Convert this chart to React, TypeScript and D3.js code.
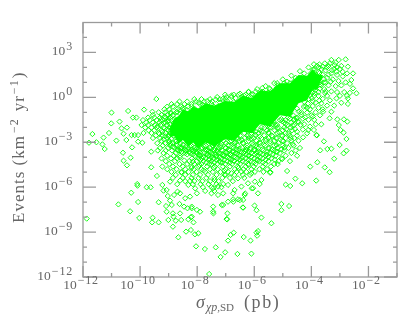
import React, { useRef, useEffect } from "react";
import * as d3 from "d3";

// all values are log10
const xMajorExp = [-12, -10, -8, -6, -4, -2];
const xMinorExp = [-11, -9, -7, -5, -3, -1];
const yMajorExp = [-12, -9, -6, -3, 0, 3];
const yMinorExp = [-11, -10, -8, -7, -5, -4, -2, -1, 1, 2, 4];

// the part of the cloud where the diamonds merge into solid green
const coreSigma = [-8.95, -8.8, -8.65, -8.5, -8.3, -8.15, -7.97, -7.7, -7.4, -7.03, -6.7, -6.4, -6.08, -5.8, -5.45, -5.1, -4.75, -4.45, -4.15, -3.95, -3.8, -3.6];
const coreTop = [-2.0, -1.4, -1.25, -0.8, -0.95, -0.6, -0.75, -0.4, -0.55, -0.25, -0.3, 0.1, -0.05, 0.45, 0.4, 0.95, 0.95, 1.5, 1.45, 1.9, 1.55, 1.5];
const coreBottom = [-2.6, -2.6, -3.1, -2.85, -3.3, -3.0, -3.4, -3.0, -3.3, -2.8, -2.9, -2.3, -2.4, -1.8, -1.95, -1.2, -1.3, -0.4, -0.2, 0.5, 0.5, 1.4];

// isolated points: [log sigma, log events]
const leftPoints = [
  [-9.43, -0.11], [-11.0, -1.02], [-10.42, -0.91], [-9.86, -0.82], [-9.57, -0.96], [-11.01, -1.74],
  [-10.72, -1.62], [-11.67, -2.45], [-11.09, -2.38], [-11.28, -2.69], [-11.79, -3.03], [-11.53, -3.0],
  [-11.32, -3.14], [-11.24, -3.45], [-10.83, -2.89], [-10.65, -2.07], [-10.46, -2.02], [-10.58, -2.43],
  [-10.48, -2.85], [-10.28, -3.34], [-10.6, -3.7], [-10.33, -4.03], [-10.58, -4.23], [-10.46, -4.54],
  [-9.61, -3.63], [-9.61, -4.67], [-10.1, -5.79], [-9.41, -5.25], [-10.07, -2.96], [-9.92, -3.03],
  [-10.19, -2.52], [-10.07, -2.52], [-10.3, -2.52], [-11.87, -8.1],
];
const rightPoints = [
  [-3.3, 2.5], [-2.8, 2.54], [-3.04, 2.5], [-2.72, 2.05], [-3.91, 2.21], [-3.53, 2.27], [-3.18, 2.16],
  [-2.54, 1.6], [-2.6, 1.16], [-2.42, 0.27], [-2.54, 0.6], [-2.72, -0.44], [-2.95, -0.36], [-2.72, -0.07],
  [-3.12, -0.07], [-3.3, -0.96], [-3.09, -1.47], [-2.86, -1.47], [-2.74, -1.62], [-3.04, -1.85],
  [-2.98, -2.18], [-2.87, -2.36], [-2.77, -2.78], [-3.56, -2.94], [-3.01, -3.18], [-3.44, -3.45],
  [-3.3, -3.43], [-3.69, -3.54], [-2.77, -3.56], [-2.87, -3.74], [-3.2, -4.1], [-3.79, -4.34],
  [-4.04, -4.63], [-3.53, -4.68], [-3.65, -1.8], [-3.91, -2.18], [-3.81, -2.54], [-4.15, -2.4],
  [-4.29, -2.67], [-3.36, -1.4], [-3.59, -0.96], [-3.4, 2.1], [-3.2, 1.9], [-3.0, 1.9], [-2.9, 1.7],
  [-2.75, 1.6], [-2.9, 1.4], [-3.1, 1.5], [-3.3, 1.6], [-3.5, 1.8], [-3.6, 1.5], [-3.45, 1.3],
  [-3.25, 1.2], [-3.05, 1.1], [-2.8, 1.0], [-2.65, 0.9], [-2.95, 0.8], [-3.15, 0.75], [-3.4, 0.8],
  [-3.55, 0.55], [-3.3, 0.4], [-3.1, 0.35], [-2.85, 0.35], [-2.65, 0.3], [-2.75, 0.1], [-3.0, 0.1],
  [-3.45, 0.1], [-3.6, -0.1], [-3.35, -0.2], [-3.65, -0.4], [-3.45, -0.55], [-3.2, -0.55], [-3.75, -0.7],
  [-3.6, -0.8], [-3.85, -1.0], [-4.0, -1.2], [-3.7, -1.2], [-3.9, -1.5], [-4.1, -1.5], [-4.25, -1.8],
  [-3.85, -1.8], [-4.05, -1.95], [-4.3, -2.15], [-4.5, -2.3], [-3.75, 2.0], [-3.6, 2.05], [-3.75, 1.7],
  [-3.9, 1.85], [-3.8, 1.35], [-3.95, 1.1], [-3.7, 1.0], [-3.85, 0.7], [-4.05, 0.5], [-3.75, 0.35],
  [-3.9, 0.1], [-4.1, -0.1], [-3.85, -0.35], [-4.2, -0.6], [-4.05, -0.8], [-4.35, -1.0], [-4.5, -1.35],
];
const lowerPoints = [
  [-4.85, -4.92], [-3.36, -5.0], [-4.56, -5.43], [-3.83, -5.56], [-4.32, -5.74], [-4.9, -5.83],
  [-4.74, -5.92], [-5.87, -6.41], [-5.05, -7.12], [-4.78, -7.26], [-5.99, -7.23], [-6.39, -7.37],
  [-5.92, -7.54], [-5.05, -7.54], [-6.94, -7.75], [-5.75, -8.03], [-6.95, -8.15], [-5.4, -8.41],
  [-5.87, -8.93], [-5.92, -9.04], [-5.9, -9.24], [-6.72, -9.04], [-6.83, -9.19], [-6.37, -9.33],
  [-6.13, -9.57], [-6.92, -9.57], [-7.35, -10.02], [-7.02, -10.35], [-7.18, -10.66], [-6.59, -10.46],
  [-6.1, -10.44], [-7.58, -11.8], [-5.43, -5.0], [-5.75, -5.52], [-5.81, -5.79], [-6.04, -6.07],
  [-6.22, -5.74], [-6.45, -5.96], [-6.69, -6.19], [-6.34, -6.52], [-6.39, -6.85], [-6.57, -6.81],
  [-6.92, -6.97], [-7.09, -7.19], [-6.74, -6.81], [-7.27, -6.52], [-7.44, -7.3], [-7.44, -7.63],
  [-7.5, -6.41], [-7.09, -6.41], [-7.27, -5.96], [-6.92, -5.85], [-6.57, -5.41], [-6.1, -5.07],
  [-7.04, -5.18], [-7.39, -5.52], [-6.45, -4.96], [-6.8, -5.07], [-5.98, -5.63], [-6.74, -6.41],
  [-7.09, -5.79], [-7.44, -6.07], [-10.09, -5.9], [-10.31, -6.37], [-9.77, -6.01], [-9.63, -6.01],
  [-10.76, -7.15], [-10.07, -6.99], [-10.35, -7.61], [-10.03, -8.06], [-9.56, -8.04], [-9.58, -8.35],
  [-9.35, -8.35], [-9.35, -7.01], [-9.22, -5.85], [-9.18, -6.23], [-9.07, -6.19], [-9.03, -6.59],
  [-8.95, -6.9], [-9.09, -7.26], [-9.07, -7.64], [-8.89, -7.19], [-8.85, -7.75], [-8.83, -7.97],
  [-9.01, -8.19], [-8.75, -8.24], [-8.56, -8.19], [-8.6, -7.75], [-8.85, -8.64], [-8.62, -7.12],
  [-8.46, -7.3], [-8.34, -7.41], [-8.19, -7.41], [-8.01, -7.52], [-8.31, -8.15], [-8.22, -8.01],
  [-8.13, -8.35], [-8.39, -8.97], [-8.22, -8.86], [-8.08, -9.15], [-7.96, -9.08], [-8.66, -9.35],
  [-8.04, -9.95], [-8.81, -6.52], [-8.69, -6.3], [-8.6, -6.41], [-8.42, -6.74], [-8.25, -6.63],
  [-8.01, -6.41], [-8.95, -5.63], [-8.6, -5.56], [-8.31, -5.85], [-8.25, -5.59], [-8.07, -6.08],
  [-7.73, -10.13], [-6.4, -7.35], [-6.97, -8.13], [-5.18, -4.46], [-5.45, -5.03], [-6.09, -6.08],
  [-6.32, -6.42], [-6.5, -6.86], [-6.73, -6.97], [-7.14, -7.19], [-7.43, -7.75], [-7.9, -7.64],
  [-8.19, -7.3], [-8.19, -7.97], [-5.02, -4.12], [-3.82, -2.51], [-4.11, -2.18],
];

// points along the rim of the solid part
const topRim = [
  [-8.85, -1.2], [-8.7, -0.95], [-8.6, -1.1], [-8.5, -0.7], [-8.35, -0.85], [-8.2, -0.6], [-8.1, -0.75],
  [-7.95, -0.35], [-7.8, -0.5], [-7.65, -0.25], [-7.5, -0.45], [-7.35, -0.15], [-7.2, -0.35], [-7.1, -0.1],
  [-6.95, -0.25], [-6.8, 0.12], [-6.65, -0.05], [-6.5, 0.25], [-6.35, 0.1], [-6.2, 0.35], [-6.05, 0.2],
  [-5.9, 0.55], [-5.75, 0.35], [-5.6, 0.75], [-5.45, 0.55], [-5.3, 0.95], [-5.15, 0.8], [-5.0, 1.2],
  [-4.85, 1.05], [-4.7, 1.45], [-4.55, 1.3], [-4.4, 1.75], [-4.25, 1.6], [-4.1, 2.0], [-3.95, 1.85], [-3.8, 2.1],
  [-8.78, -1.45], [-8.55, -1.3], [-8.28, -1.05], [-8.02, -0.9], [-7.72, -0.72], [-7.42, -0.62], [-7.05, -0.5],
  [-6.72, -0.32], [-6.42, -0.12], [-6.12, 0.02], [-5.82, 0.15], [-5.52, 0.32], [-5.22, 0.55], [-4.92, 0.82],
  [-4.62, 1.05], [-4.32, 1.35], [-4.02, 1.6],
];
const bottomRim = [
  [-9.0, -2.6], [-8.95, -3.1], [-8.85, -3.3], [-8.75, -2.95], [-8.6, -3.4], [-8.5, -3.15], [-8.4, -3.55],
  [-8.25, -3.3], [-8.15, -3.6], [-8.0, -3.4], [-7.9, -3.7], [-7.75, -3.3], [-7.6, -3.6], [-7.45, -3.25],
  [-7.3, -3.55], [-7.15, -3.1], [-7.0, -3.4], [-6.85, -2.95], [-6.7, -3.2], [-6.55, -2.75], [-6.4, -3.05],
  [-6.25, -2.55], [-6.1, -2.8], [-5.95, -2.3], [-5.8, -2.6], [-5.65, -2.05], [-5.5, -2.35], [-5.35, -1.8],
  [-5.2, -2.05], [-5.05, -1.45], [-4.9, -1.75], [-4.75, -1.1], [-4.6, -1.45], [-4.5, -0.75], [-4.35, -1.15],
  [-4.25, -0.3], [-4.15, -0.7], [-4.05, 0.15], [-3.95, -0.25], [-3.85, 0.5], [-3.75, 0.1], [-3.7, 0.85],
  [-3.55, 1.0], [-3.5, 0.4], [-9.0, -1.4], [-8.95, -1.8], [-9.05, -2.15], [-8.95, -2.4], [-9.12, -2.6],
  [-8.92, -1.1], [-8.98, -2.0], [-8.9, -2.75], [-9.18, -1.7], [-9.22, -2.3],
];

// clumps inside the busy parts, not on any row
const clumpPoints = [
  [-9.02, -1.62], [-8.83, -1.72], [-8.72, -1.95], [-8.9, -2.12], [-8.78, -2.33], [-8.66, -2.62], [-8.83, -2.58],
  [-9.14, -1.28], [-9.28, -1.53], [-9.38, -1.92], [-9.14, -2.07], [-9.32, -2.44], [-9.16, -2.82], [-8.98, -3.0],
  [-8.72, -3.12], [-8.52, -3.35], [-8.3, -3.48], [-8.07, -3.52], [-7.85, -3.42], [-7.62, -3.47], [-7.38, -3.4],
  [-7.17, -3.33], [-6.93, -3.2], [-6.67, -3.03], [-6.43, -2.85], [-6.2, -2.72], [-5.97, -2.5], [-5.73, -2.25],
  [-5.48, -2.02], [-5.27, -1.83], [-5.02, -1.6], [-4.82, -1.35], [-4.64, -1.2], [-4.44, -0.95], [-4.27, -0.62],
  [-4.12, -0.42], [-3.98, -0.05], [-3.88, 0.28], [-8.68, -3.55], [-8.42, -3.72], [-8.18, -3.78], [-7.92, -3.87],
  [-7.67, -3.76], [-7.47, -3.84], [-7.24, -3.72], [-6.98, -3.67], [-6.74, -3.58], [-6.52, -3.42], [-6.26, -3.36],
  [-6.04, -3.18], [-5.83, -3.02], [-5.59, -2.78], [-5.36, -2.62], [-5.12, -2.35], [-4.88, -2.12], [-4.66, -1.88],
  [-4.47, -1.6], [-4.22, -1.34], [-7.84, -4.06], [-7.56, -4.13], [-7.33, -3.97], [-7.07, -3.92], [-6.83, -3.83],
  [-6.6, -3.77], [-6.33, -3.62], [-6.14, -3.48], [-5.92, -3.34], [-5.67, -3.14], [-5.44, -2.93], [-5.24, -2.72],
  [-5.01, -2.57], [-4.8, -2.42], [-4.57, -2.12], [-4.38, -1.83], [-3.72, 1.62], [-3.56, 1.22], [-3.4, 1.52],
  [-3.66, 0.82], [-3.5, 0.98], [-3.32, 1.05], [-3.78, 1.12], [-3.94, 0.86], [-3.64, 1.88], [-3.46, 2.0],
  [-3.28, 1.82], [-3.12, 1.72], [-3.35, 2.28], [-3.15, 2.32], [-3.72, 2.2], [-2.95, 2.1], [-3.1, 2.0],
  [-3.98, 0.32], [-3.7, 0.58], [-3.52, 0.28], [-3.95, -0.58], [-3.72, -0.22], [-4.15, -1.02], [-3.95, -1.28],
  [-8.6, -4.02], [-8.45, -4.22], [-8.15, -4.28], [-7.92, -4.52], [-7.5, -4.47], [-7.18, -4.33], [-6.72, -4.22],
  [-6.45, -4.08], [-6.18, -3.88], [-5.92, -3.72], [-5.5, -3.42], [-5.22, -3.18], [-4.98, -2.92], [-4.72, -2.72],
  [-4.5, -2.55], [-8.55, -5.02], [-8.2, -4.72], [-7.78, -4.88], [-7.42, -4.72], [-7.05, -4.9], [-6.55, -4.72],
  [-6.2, -4.52], [-5.88, -4.2], [-5.55, -3.82], [-5.22, -3.62], [-4.95, -3.35], [-4.65, -3.12],
];

// the thick of the cloud, read row by row: [log events, log sigma values]
const cloudRows: [number, number[]][] = [
  [0.95, [-5.2, -4.95, -4.75]],
  [0.62, [-5.72, -5.48, -5.22]],
  [0.38, [-6.2, -5.95, -5.7]],
  [0.18, [-7.02, -6.72, -6.55, -6.3, -6.1]],
  [0.02, [-7.3, -6.98, -6.8, -6.42]],
  [-0.12, [-8.1, -7.85, -7.55, -7.2, -7.0]],
  [-0.28, [-8.62, -8.35, -8.05, -7.75, -7.48]],
  [-0.45, [-8.9, -8.7, -8.45, -8.2, -7.9]],
  [-0.62, [-9.05, -8.85, -8.55, -8.32]],
  [-0.8, [-9.15, -8.98, -8.7, -8.5]],
  [-1.0, [-9.35, -9.12, -8.92, -8.72]],
  [-1.18, [-9.55, -9.25, -9.05, -8.85]],
  [-1.35, [-10.25, -10.13, -9.72, -9.5, -9.3, -9.1, -8.95]],
  [-1.42, [-4.75, -4.52, -4.3]],
  [-1.52, [-9.9, -9.66, -9.42, -9.2, -9.0, -5.1, -4.9, -4.62]],
  [-1.68, [-9.78, -9.55, -9.32, -9.12, -5.3, -4.95, -4.7, -4.45]],
  [-1.85, [-9.95, -9.72, -9.48, -9.28, -9.05, -5.5, -5.2, -4.85, -4.6]],
  [-2.02, [-9.82, -9.6, -9.42, -9.18, -5.75, -5.42, -5.15, -4.95, -4.72]],
  [-2.2, [-9.7, -9.5, -9.25, -9.0, -6.05, -5.8, -5.55, -5.28, -5.0, -4.68]],
  [-2.38, [-9.88, -9.6, -9.35, -9.1, -8.92, -6.7, -6.35, -6.1, -5.85, -5.5, -5.2, -4.9]],
  [-2.55, [-9.45, -9.22, -9.0, -7.3, -7.05, -6.8, -6.5, -6.2, -5.95, -5.65, -5.38, -5.05, -4.75]],
  [-2.72, [-9.55, -9.3, -9.05, -7.8, -7.5, -7.2, -6.9, -6.62, -6.33, -6.02, -5.75, -5.5, -5.2, -4.9, -4.6]],
  [-2.9, [-9.25, -8.98, -8.72, -8.3, -8.0, -7.72, -7.42, -7.08, -6.8, -6.52, -6.2, -5.92, -5.6, -5.3, -5.02, -4.7, -4.45]],
  [-3.06, [-9.4, -9.12, -8.85, -8.6, -8.35, -8.1, -7.85, -7.6, -7.3, -7.0, -6.7, -6.38, -6.08, -5.78, -5.45, -5.15, -4.85]],
  [-3.22, [-9.2, -8.95, -8.72, -8.48, -8.22, -7.98, -7.7, -7.45, -7.18, -6.88, -6.58, -6.25, -5.95, -5.62, -5.3, -5.0, -4.62]],
  [-3.38, [-9.3, -9.02, -8.8, -8.55, -8.3, -8.08, -7.82, -7.55, -7.25, -7.0, -6.72, -6.42, -6.12, -5.85, -5.48, -5.18, -4.8, -4.4]],
  [-3.47, [-8.7, -8.45, -8.18, -7.72, -7.42, -6.9, -6.62, -6.3, -6.0, -5.72, -5.38, -5.05]],
  [-3.55, [-9.38, -9.1, -8.88, -8.62, -8.38, -8.12, -7.92, -7.65, -7.4, -7.12, -6.85, -6.55, -6.28, -5.98, -5.68, -5.3, -4.95, -4.55]],
  [-3.64, [-8.55, -8.28, -8.02, -7.55, -7.28, -7.02, -6.75, -6.45, -6.18, -5.88, -5.55, -5.2]],
  [-3.72, [-9.18, -8.75, -8.5, -8.25, -8.0, -7.75, -7.48, -7.2, -6.95, -6.65, -6.38, -6.1, -5.8, -5.45, -5.1, -4.7]],
  [-3.81, [-8.35, -7.95, -7.65, -7.38, -7.1, -6.85, -6.55, -6.28, -5.98, -5.7, -5.35]],
  [-3.9, [-9.05, -8.82, -8.6, -8.1, -7.88, -7.6, -7.32, -7.05, -6.78, -6.5, -6.2, -5.88, -5.6, -5.25, -4.9, -4.5]],
  [-3.99, [-8.05, -7.78, -7.5, -7.22, -6.95, -6.68, -6.4, -6.1, -5.8, -5.5]],
  [-4.08, [-9.25, -8.92, -8.7, -8.18, -7.95, -7.7, -7.42, -7.15, -6.88, -6.6, -6.3, -6.0, -5.7, -5.4, -5.05]],
  [-4.17, [-7.88, -7.6, -7.32, -7.05, -6.8, -6.52, -6.2, -5.9, -5.6, -5.28]],
  [-4.26, [-9.1, -8.78, -8.28, -8.02, -7.78, -7.5, -7.22, -6.95, -6.7, -6.4, -6.12, -5.82, -5.5, -5.15, -4.75]],
  [-4.35, [-7.68, -7.4, -7.12, -6.85, -6.58, -6.3, -6.02, -5.7]],
  [-4.45, [-8.98, -8.62, -8.35, -8.1, -7.85, -7.58, -7.3, -7.02, -6.78, -6.5, -6.22, -5.95, -5.62, -5.3]],
  [-4.62, [-9.22, -8.85, -8.5, -8.2, -7.95, -7.65, -7.38, -7.1, -6.85, -6.58, -6.3, -6.02, -5.7, -5.42]],
  [-4.8, [-9.05, -8.72, -8.42, -8.12, -7.85, -7.55, -7.28, -7.0, -6.68, -6.38, -6.1, -5.82, -5.55]],
  [-4.98, [-8.9, -8.55, -8.3, -8.02, -7.72, -7.45, -7.18, -6.92, -6.62, -6.28, -5.98, -5.68]],
  [-5.18, [-8.75, -8.42, -8.15, -7.9, -7.62, -7.32, -7.0, -6.7, -6.4, -6.15]],
  [-5.38, [-8.85, -8.5, -8.2, -7.95, -7.68, -7.4, -7.12, -6.85, -6.35]],
  [-5.6, [-8.42, -8.1, -7.82, -7.55, -7.25, -6.75]],
  [-5.8, [-8.7, -8.15, -7.88, -7.6, -7.32]],
  [-6.0, [-7.8, -7.5, -7.15]],
  [-6.25, [-7.72, -7.4]],
];

const cloudPoints = cloudRows.flatMap(([ev, xs]) => xs.map((x) => [x, ev]));
const allPoints = [...leftPoints, ...rightPoints, ...lowerPoints, ...topRim, ...bottomRim, ...clumpPoints, ...cloudPoints];

const axisColor = "#9a9a9a";
const textColor = "#666666";
const fontFamily = "'Liberation Serif', 'DejaVu Serif', serif";

export default function App() {
  const canvas = useRef<SVGSVGElement>(null);

  function drawChart() {
    const svg = d3.select(canvas.current);
    svg.selectAll("*").remove();

    const x = d3.scaleLinear().domain([-12, -1]).range([83, 397]);
    const y = d3.scaleLinear().domain([-12, 5]).range([277, 22.5]);

    const defs = svg.append("defs");
    defs
      .append("filter")
      .attr("id", "soft")
      .attr("color-interpolation-filters", "sRGB")
      .append("feGaussianBlur")
      .attr("stdDeviation", 0.4);

    const marks = svg.append("g").attr("filter", "url(#soft)");
    const area = d3
      .area<number>()
      .x((d) => x(d))
      .y0((d, i) => y(coreBottom[i]))
      .y1((d, i) => y(coreTop[i]));
    marks.append("path").attr("d", area(coreSigma)).attr("fill", "#00ff00");

    const diamond = d3.symbol().type(d3.symbolSquare).size(14);
    marks
      .selectAll("path.pt")
      .data(allPoints)
      .enter()
      .append("path")
      .attr("class", "pt")
      .attr("d", diamond())
      .attr("transform", (d) => `translate(${x(d[0])},${y(d[1])}) rotate(45)`)
      .attr("fill", "none")
      .attr("stroke", "#00ff00")
      .attr("stroke-width", 0.85);

    const axes = svg.append("g").attr("filter", "url(#soft)").attr("stroke", axisColor).attr("stroke-width", 1.3);
    axes
      .append("rect")
      .attr("x", x(-12))
      .attr("y", y(5))
      .attr("width", x(-1) - x(-12))
      .attr("height", y(-12) - y(5))
      .attr("fill", "none");

    const xTicks = [...xMajorExp.map((v) => [v, 11]), ...xMinorExp.map((v) => [v, 4])];
    axes
      .selectAll("path.xt")
      .data(xTicks)
      .enter()
      .append("path")
      .attr("class", "xt")
      .attr("d", (d) => `M${x(d[0])},${y(-12)}v${-d[1]}M${x(d[0])},${y(5)}v${d[1]}`);

    const yTicks = [...yMajorExp.map((v) => [v, 13]), ...yMinorExp.map((v) => [v, 4])];
    axes
      .selectAll("path.yt")
      .data(yTicks)
      .enter()
      .append("path")
      .attr("class", "yt")
      .attr("d", (d) => `M${x(-12)},${y(d[0])}h${d[1]}M${x(-1)},${y(d[0])}h${-d[1]}`);

    const labels = svg
      .append("g")
      .attr("filter", "url(#soft)")
      .attr("fill", textColor)
      .attr("font-family", fontFamily)
      .attr("font-size", 13.5);

    function power(sel: any, exp: number) {
      sel.append("tspan").text("10");
      sel
        .append("tspan")
        .attr("dy", -5)
        .attr("dx", 1)
        .attr("font-size", 12)
        .attr("letter-spacing", 0.8)
        .text(String(exp).replace("-", "\u2212"));
    }

    xMajorExp.forEach((v) => {
      const t = labels.append("text").attr("x", x(v) - 2).attr("y", 289).attr("text-anchor", "middle");
      power(t, v);
    });
    yMajorExp.forEach((v) => {
      const t = labels.append("text").attr("x", 73).attr("y", y(v) + 3).attr("text-anchor", "end");
      power(t, v);
    });

    const xTitle = labels.append("text").attr("x", 196).attr("y", 308).attr("font-size", 18);
    xTitle.append("tspan").attr("font-style", "italic").text("\u03c3");
    xTitle.append("tspan").attr("dy", 3).attr("dx", 1).attr("font-size", 12).attr("font-style", "italic").text("\u03c7p");
    xTitle.append("tspan").attr("font-size", 11).text(",SD");
    xTitle.append("tspan").attr("dy", -3).attr("dx", 10).attr("letter-spacing", 1.6).text("(pb)");

    const yTitle = labels
      .append("text")
      .attr("transform", "translate(24,223) rotate(-90)")
      .attr("font-size", 17)
      .attr("letter-spacing", 1);
    yTitle.append("tspan").text("Events  (km");
    yTitle.append("tspan").attr("dy", -6).attr("dx", 2).attr("font-size", 12).text("\u22122");
    yTitle.append("tspan").attr("dy", 6).attr("dx", 7).text("yr");
    yTitle.append("tspan").attr("dy", -6).attr("dx", 1).attr("font-size", 12).text("\u22121");
    yTitle.append("tspan").attr("dy", 6).attr("dx", 1).text(")");
  }

  useEffect(() => {
    drawChart();
  }, []);

  return (
    <svg
      ref={canvas}
      width={415}
      height={324}
      style={{ position: "absolute", left: 0, top: 0, background: "#fff" }}
    ></svg>
  );
}
